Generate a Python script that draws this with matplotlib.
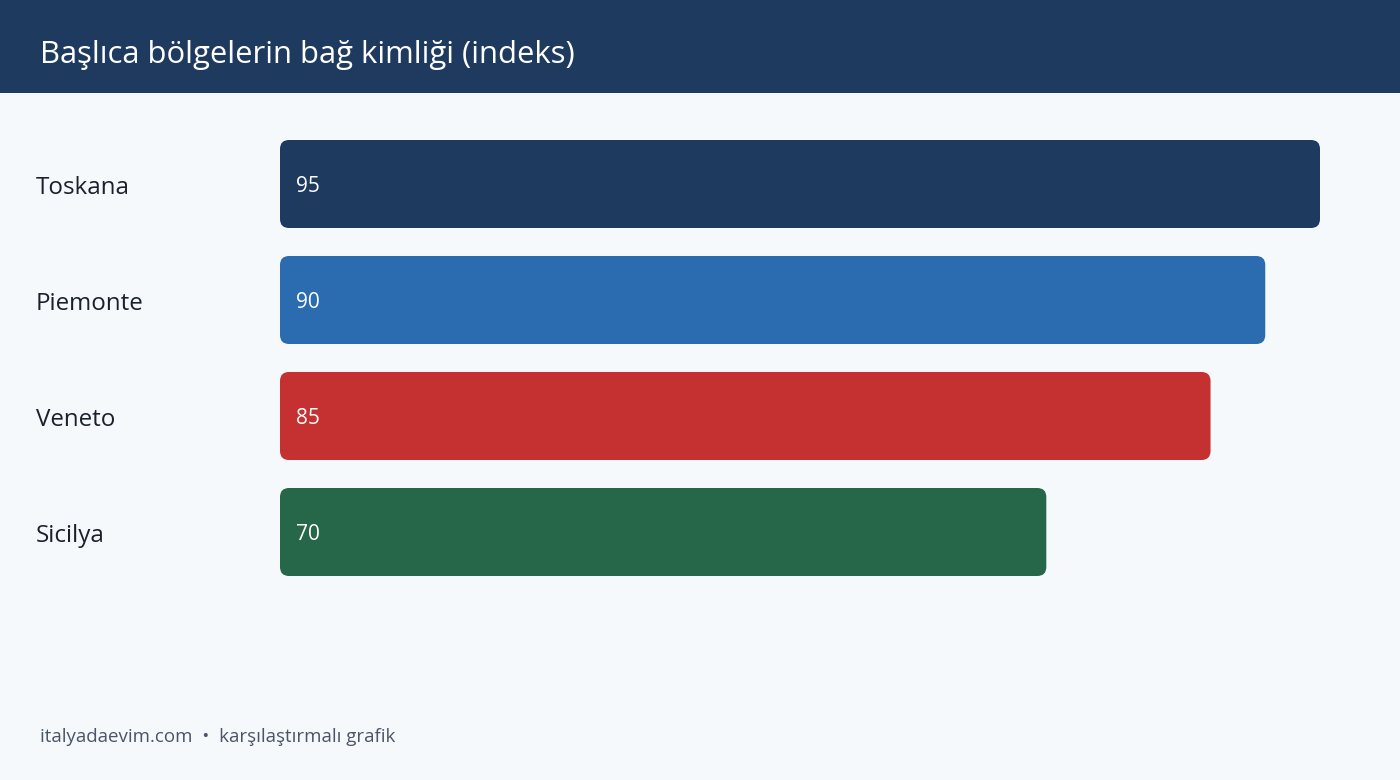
import matplotlib
matplotlib.use('Agg')
import matplotlib.pyplot as plt
from matplotlib.patches import FancyBboxPatch, Rectangle

regions = ['Toskana', 'Piemonte', 'Veneto', 'Sicilya']
values = [95, 90, 85, 70]
colors = ['#1f3a5f', '#2b6cb0', '#c53030', '#276749']

title = 'Başlıca bölgelerin bağ kimliği (indeks)'
footer = 'italyadaevim.com  •  karşılaştırmalı grafik'

plt.rcParams['font.family'] = ['Open Sans', 'DejaVu Sans']

W, H = 1400, 780
fig = plt.figure(figsize=(W / 100, H / 100), dpi=100)
fig.patch.set_facecolor('#f5f9fc')

# header band
fig.patches.append(Rectangle((0, 1 - 93 / H), 1, 93 / H, transform=fig.transFigure,
                             facecolor='#1f3a5f', edgecolor='none', zorder=0))
fig.text(40 / W, 1 - 55 / H, title, color='white', fontsize=22.3, va='center', ha='left')

# bar area: x=0 at 280px, 1 unit = 1040/95 px
px_per_x = 1040 / 95
xmax = 100
row = 116
ax = fig.add_axes([280 / W, (H - 590) / H, xmax * px_per_x / W, 4 * row / H])
ax.set_xlim(0, xmax)
ax.set_ylim(3.5, -0.5)
ax.axis('off')

bar_h = 88 / row
r = 9 / px_per_x
aspect = (1 / row) / (1 / px_per_x)
for i, (name, v, c) in enumerate(zip(regions, values, colors)):
    p = FancyBboxPatch((0, i - bar_h / 2), v, bar_h,
                       boxstyle=f'round,pad=0,rounding_size={r}',
                       mutation_aspect=aspect, facecolor=c, edgecolor='none')
    ax.add_patch(p)
    ax.text(16 / px_per_x, i + 2 / row, str(v), color='white', fontsize=15, va='center', ha='left')
    fig.text(36 / W, (H - (188 + i * row)) / H, name, color='#1a202c',
             fontsize=17.4, va='center', ha='left')

fig.text(40 / W, 1 - 737 / H, footer, color='#4a5568', fontsize=13.5, va='center', ha='left')

fig.savefig('out.png', dpi=100, facecolor=fig.get_facecolor())
